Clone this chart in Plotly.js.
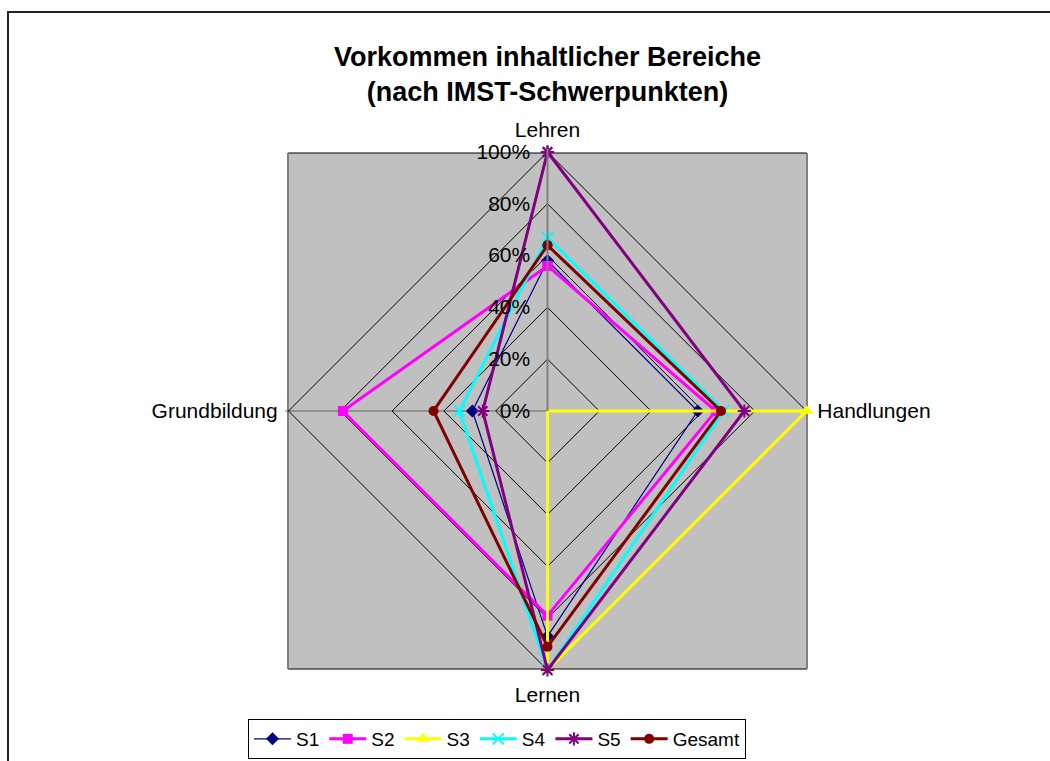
<!DOCTYPE html>
<html>
<head>
<meta charset="utf-8">
<script src="https://cdn.plot.ly/plotly-3.0.1.min.js"></script>
<style>html,body{margin:0;padding:0;background:#fff;}#chart{width:1050px;height:761px;}</style>
</head>
<body>
<div id="chart"></div>
<script>
var categories = ['Lehren', 'Handlungen', 'Lernen', 'Grundbildung'];
var S1 = [0.58, 0.58, 0.87, 0.29];
var S2 = [0.56, 0.65, 0.79, 0.79];
var S3 = [0.0, 1.0, 1.0, 0.0];
var S4 = [0.67, 0.68, 1.0, 0.34];
var S5 = [1.0, 0.76, 1.0, 0.25];
var Gesamt = [0.64, 0.67, 0.91, 0.44];
var seriesNames = ['S1', 'S2', 'S3', 'S4', 'S5', 'Gesamt'];
var tickVals = [0, 0.2, 0.4, 0.6, 0.8, 1.0];
var tickText = ['0%', '20%', '40%', '60%', '80%', '100%'];

var W = 1050, H = 761;
function px(x) { return x / W; }
function py(y) { return 1 - y / H; }

var styles = [
  {color: '#000080', width: 1.2, symbol: 'diamond', size: 10, open: false},
  {color: '#FF00FF', width: 3, symbol: 'square', size: 10, open: false},
  {color: '#FFFF00', width: 3, symbol: 'triangle-up', size: 12, open: false},
  {color: '#00FFFF', width: 3, symbol: 'x-thin-open', size: 11, open: true},
  {color: '#800080', width: 3, symbol: 'asterisk-open', size: 11, open: true},
  {color: '#800000', width: 3, symbol: 'circle', size: 10, open: false}
];
var allSeries = [S1, S2, S3, S4, S5, Gesamt];

var traces = allSeries.map(function (vals, i) {
  var st = styles[i];
  var marker = {symbol: st.symbol, size: st.size, color: st.color};
  if (st.open) marker.line = {color: st.color, width: 2};
  return {
    type: 'scatterpolar',
    mode: 'lines+markers',
    name: seriesNames[i],
    r: vals.concat([vals[0]]),
    theta: categories.concat([categories[0]]),
    line: {color: st.color, width: st.width},
    marker: marker,
    cliponaxis: false
  };
});

var font = 'Liberation Sans, Arial, sans-serif';
var rMax = 1.012;
var cx = 547.5, cy = 411, R = 259 * rMax;

var layout = {
  width: W, height: H,
  margin: {l: 0, r: 0, t: 0, b: 0},
  paper_bgcolor: '#ffffff',
  font: {family: font, color: '#000', size: 21},
  title: {
    text: '<b>Vorkommen inhaltlicher Bereiche<br>(nach IMST-Schwerpunkten)</b>',
    font: {family: font, size: 27, color: '#000'},
    x: px(cx), xanchor: 'center',
    y: py(66), yanchor: 'top', yref: 'container'
  },
  showlegend: true,
  legend: {
    orientation: 'h',
    x: px(497), xanchor: 'center',
    y: py(719), yanchor: 'top',
    bgcolor: '#ffffff', bordercolor: '#000', borderwidth: 1,
    font: {family: font, size: 19, color: '#000'},
    itemwidth: 37
  },
  polar: {
    domain: {x: [px(cx - R), px(cx + R)], y: [py(cy + R), py(cy - R)]},
    bgcolor: 'rgba(0,0,0,0)',
    gridshape: 'linear',
    radialaxis: {
      range: [0, rMax],
      tickvals: tickVals, ticktext: tickText,
      angle: 90, side: 'counterclockwise', tickangle: 90,
      showline: true, linecolor: '#808080', linewidth: 2,
      gridcolor: '#000', gridwidth: 1,
      ticks: 'outside', ticklen: 9, tickcolor: 'rgba(0,0,0,0)',
      tickfont: {family: font, size: 21, color: '#000'}
    },
    angularaxis: {
      type: 'category',
      categoryarray: categories,
      direction: 'clockwise', rotation: 90,
      showline: false,
      gridcolor: '#606060', gridwidth: 1,
      ticks: 'outside', ticklen: 3, tickcolor: 'rgba(0,0,0,0)',
      tickfont: {family: font, size: 21, color: '#000'}
    }
  },
  shapes: [
    {type: 'rect', xref: 'paper', yref: 'paper', layer: 'below',
     x0: px(288), x1: px(807), y0: py(669), y1: py(153),
     fillcolor: '#C0C0C0', line: {width: 0}},
    {type: 'line', xref: 'paper', yref: 'paper', layer: 'below',
     x0: px(288), x1: px(807), y0: py(153), y1: py(153), line: {color: '#000', width: 1}},
    {type: 'line', xref: 'paper', yref: 'paper', layer: 'below',
     x0: px(288), x1: px(807), y0: py(669), y1: py(669), line: {color: '#000', width: 1}},
    {type: 'line', xref: 'paper', yref: 'paper', layer: 'below',
     x0: px(288), x1: px(288), y0: py(153), y1: py(669), line: {color: '#808080', width: 2}},
    {type: 'line', xref: 'paper', yref: 'paper', layer: 'below',
     x0: px(807), x1: px(807), y0: py(153), y1: py(669), line: {color: '#808080', width: 2}},
    {type: 'rect', xref: 'paper', yref: 'paper', layer: 'above',
     x0: px(8), x1: px(1070), y0: py(790), y1: py(12),
     fillcolor: 'rgba(0,0,0,0)', line: {color: '#222', width: 2}}
  ]
};

Plotly.newPlot('chart', traces, layout, {displayModeBar: false, staticPlot: true});
</script>
</body>
</html>
